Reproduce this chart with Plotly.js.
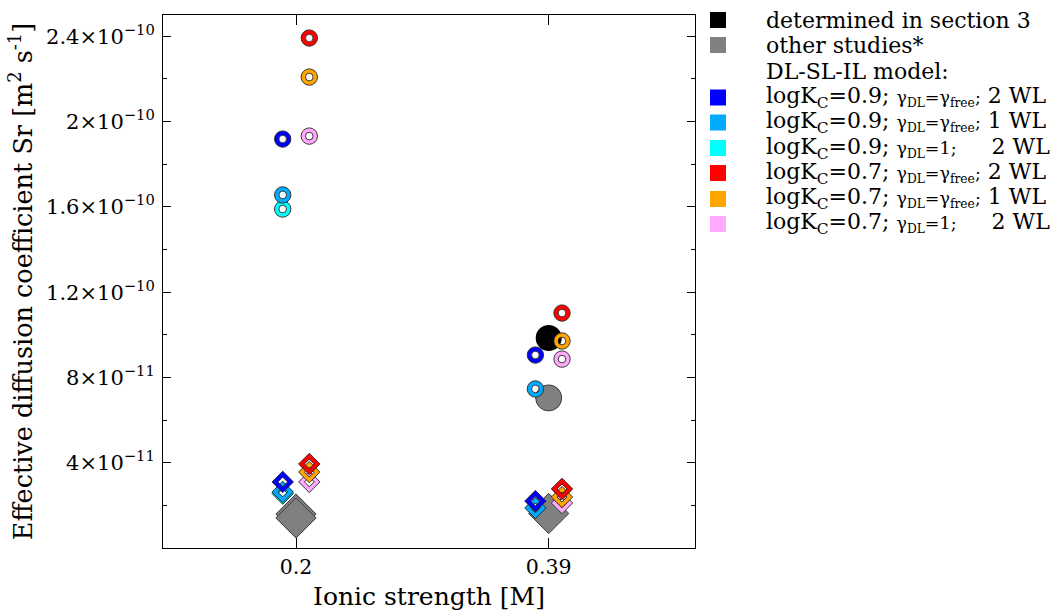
<!DOCTYPE html>
<html>
<head>
<meta charset="utf-8">
<script src="https://cdn.plot.ly/plotly-3.0.1.min.js"></script>
<style>
  html, body { margin: 0; padding: 0; background: #fff; }
  #chart { width: 1057px; height: 613px; }
</style>
</head>
<body>
<div id="chart"></div>
<script>
// Ionic strength levels [M]
const ionicStrength = [0.2, 0.39];

// Measured effective diffusion coefficients of Sr [m2 s-1]
const sectionThreeIS = [0.39];
const sectionThreeDe = [9.85e-11];
const otherRingIS = [0.39];
const otherRingDe = [7.04e-11];
const otherDiamondIS = [0.2, 0.2, 0.39];
const otherDiamondDe = [1.59e-11, 1.41e-11, 1.62e-11];

// DL-SL-IL model results at each ionic strength (ring = circle marker, diam = diamond marker)
const ring_k09_free_2WL = [1.918e-10, 9.05e-11];
const diam_k09_free_2WL = [3.10e-11, 2.20e-11];
const ring_k09_free_1WL = [1.656e-10, 7.46e-11];
const diam_k09_free_1WL = [2.63e-11, 1.88e-11];
const ring_k09_g1_2WL = [1.590e-10, null];
const diam_k09_g1_2WL = [2.55e-11, null];
const ring_k07_free_2WL = [2.392e-10, 1.102e-10];
const diam_k07_free_2WL = [3.94e-11, 2.77e-11];
const ring_k07_free_1WL = [2.209e-10, 9.71e-11];
const diam_k07_free_1WL = [3.56e-11, 2.39e-11];
const ring_k07_g1_2WL = [1.932e-10, 8.86e-11];
const diam_k07_g1_2WL = [3.10e-11, 2.11e-11];

// Axis tick labels
const yTickVals = [4e-11, 8e-11, 1.2e-10, 1.6e-10, 2e-10, 2.4e-10];
const yTickText = ['4×10<sup>−11</sup>', '8×10<sup>−11</sup>', '1.2×10<sup>−10</sup>',
                   '1.6×10<sup>−10</sup>', '2×10<sup>−10</sup>', '2.4×10<sup>−10</sup>'];
const xTickText = ['0.2', '0.39'];

// Legend rows
const gammaFree = '<span style="font-size:17.5px">γ<sub>DL</sub>=γ<sub>free</sub>;</span>';
const gammaOne = '<span style="font-size:17.5px">γ<sub>DL</sub>=1;</span>';
const legendLabels = [
  'determined in section 3',
  'other studies*',
  'DL-SL-IL model:',
  'logK<sub>C</sub>=0.9; ' + gammaFree + ' 2 WL',
  'logK<sub>C</sub>=0.9; ' + gammaFree + ' 1 WL',
  'logK<sub>C</sub>=0.9; ' + gammaOne + ' \u00a0\u00a0\u00a0\u00a02 WL',
  'logK<sub>C</sub>=0.7; ' + gammaFree + ' 2 WL',
  'logK<sub>C</sub>=0.7; ' + gammaFree + ' 1 WL',
  'logK<sub>C</sub>=0.7; ' + gammaOne + ' \u00a0\u00a0\u00a0\u00a02 WL'
];
const legendColors = ['#000000', '#808080', null, '#0000ff', '#00aaff', '#00ffff',
                      '#ff0000', '#ffa500', '#ffaaff'];

// Plot frame in pixels
const W = 1057, H = 613;
const M = { l: 163, r: 362, t: 15, b: 65 };
const plotW = W - M.l - M.r, plotH = H - M.t - M.b;
const px2paperX = px => (px - M.l) / plotW;
const px2paperY = py => (H - M.b - py) / plotH;

// Model series: coloured rings with thin dark edges and a see-through centre
function modelTraces(ringVals, diamVals, xOffset, color) {
  const x = [], y = [], sym = [];
  ionicStrength.forEach((is, i) => { x.push(is + xOffset); y.push(ringVals[i]); sym.push('circle-open'); });
  ionicStrength.forEach((is, i) => { x.push(is + xOffset); y.push(diamVals[i]); sym.push('diamond-open'); });
  const base = { x, y, type: 'scatter', mode: 'markers', hoverinfo: 'skip', showlegend: false, cliponaxis: false };
  return [
    Object.assign({}, base, { marker: { symbol: sym, size: 12, color: color, line: { color: color, width: 4.3 } } }),
    Object.assign({}, base, { marker: { symbol: sym, size: 16.4, color: '#262626', line: { color: '#262626', width: 0.9 } } }),
    Object.assign({}, base, { marker: { symbol: sym, size: 7.6, color: '#262626', line: { color: '#262626', width: 0.9 } } })
  ];
}

const traces = [
  { x: otherDiamondIS, y: otherDiamondDe, type: 'scatter', mode: 'markers', hoverinfo: 'skip', showlegend: false,
    marker: { symbol: 'diamond', size: 31, color: '#808080', line: { color: '#3a3a3a', width: 1 } } },
  { x: sectionThreeIS, y: sectionThreeDe, type: 'scatter', mode: 'markers', hoverinfo: 'skip', showlegend: false,
    marker: { symbol: 'circle', size: 26, color: '#000000', line: { color: '#000', width: 0 } } },
  { x: otherRingIS, y: otherRingDe, type: 'scatter', mode: 'markers', hoverinfo: 'skip', showlegend: false,
    marker: { symbol: 'circle', size: 26, color: '#808080', line: { color: '#3a3a3a', width: 1 } } }
].concat(
  modelTraces(ring_k09_g1_2WL, diam_k09_g1_2WL, -0.01, '#00ffff'),
  modelTraces(ring_k09_free_1WL, diam_k09_free_1WL, -0.01, '#00aaff'),
  modelTraces(ring_k09_free_2WL, diam_k09_free_2WL, -0.01, '#0000ff'),
  modelTraces(ring_k07_g1_2WL, diam_k07_g1_2WL, 0.01, '#ffaaff'),
  modelTraces(ring_k07_free_1WL, diam_k07_free_1WL, 0.01, '#ffa500'),
  modelTraces(ring_k07_free_2WL, diam_k07_free_2WL, 0.01, '#ff0000')
);

// Legend drawn as rows of colour squares and labels to the right of the frame
const rowY = [20, 45, 71.5, 97.5, 122.5, 148, 173, 199, 224];
const shapes = [], annotations = [];
legendLabels.forEach((label, i) => {
  if (legendColors[i]) {
    shapes.push({ type: 'rect', xref: 'paper', yref: 'paper', layer: 'above',
      x0: px2paperX(710), x1: px2paperX(726), y0: px2paperY(rowY[i] + 8), y1: px2paperY(rowY[i] - 8),
      fillcolor: legendColors[i], line: { width: 0 } });
  }
  annotations.push({ xref: 'paper', yref: 'paper', x: px2paperX(764), y: px2paperY(rowY[i]),
    xanchor: 'left', yanchor: 'middle', showarrow: false, align: 'left',
    text: label, font: { family: 'DejaVu Serif', size: 22, color: '#000' } });
});

const layout = {
  width: W, height: H,
  margin: M,
  paper_bgcolor: '#fff', plot_bgcolor: '#fff',
  showlegend: false,
  font: { family: 'DejaVu Serif', size: 20, color: '#000' },
  xaxis: {
    range: [0.1, 0.5],
    tickmode: 'array', tickvals: ionicStrength, ticktext: xTickText,
    ticks: 'inside', ticklen: 10, tickwidth: 1, tickcolor: '#000',
    showline: true, linecolor: '#000', linewidth: 1, mirror: 'ticks',
    showgrid: false, zeroline: false,
    tickfont: { family: 'DejaVu Serif', size: 20.5 },
    title: { text: 'Ionic strength [M]', font: { family: 'DejaVu Serif', size: 25 }, standoff: 9 }
  },
  yaxis: {
    range: [0, 2.5e-10],
    tickmode: 'array', tickvals: yTickVals, ticktext: yTickText,
    ticks: 'inside', ticklen: 8, tickwidth: 1, tickcolor: '#000',
    ticklabelstandoff: 3,
    minor: { tick0: 0, dtick: 2e-11, ticks: 'inside', ticklen: 4, tickwidth: 1, tickcolor: '#000', showgrid: false },
    showline: true, linecolor: '#000', linewidth: 1, mirror: 'ticks',
    showgrid: false, zeroline: false,
    tickfont: { family: 'DejaVu Serif', size: 21 },
    title: { text: 'Effective diffusion coefficient Sr [m<sup>2</sup> s<sup>-1</sup>]',
             font: { family: 'DejaVu Serif', size: 25.5 }, standoff: 6 }
  },
  shapes: shapes,
  annotations: annotations
};

Plotly.newPlot('chart', traces, layout, { displayModeBar: false, staticPlot: true });
</script>
</body>
</html>
